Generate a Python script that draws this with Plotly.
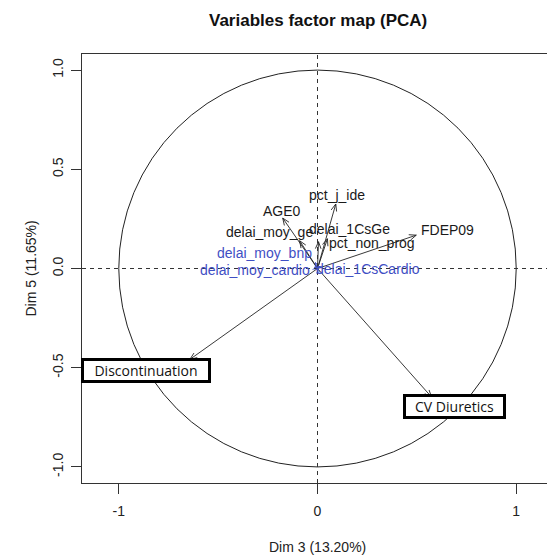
import math
import plotly.graph_objects as go

# ---- data (coordinates on Dim 3 / Dim 5) ----
active_names = ["AGE0", "pct_j_ide", "delai_moy_ge", "delai_1CsGe", "pct_non_prog",
                "FDEP09", "Discontinuation", "CV Diuretics"]
active_dim3 = [-0.175, 0.092, -0.09, 0.005, 0.05, 0.497, -0.642, 0.574]
active_dim5 = [0.254, 0.325, 0.14, 0.135, 0.15, 0.168, -0.458, -0.648]
# label offsets relative to arrow tip (data units)
active_lab_dx = [-0.005, 0.004, -0.150, 0.157, 0.223, 0.159, -0.219, 0.114]
active_lab_dy = [0.035, 0.045, 0.043, 0.063, -0.022, 0.025, -0.056, -0.046]

sup_names = ["delai_moy_bnp", "delai_moy_cardio", "delai_1CsCardio"]
sup_dim3 = [-0.01, -0.015, 0.01]
sup_dim5 = [0.03, 0.005, 0.01]
sup_lab_dx = [-0.255, -0.300, 0.243]
sup_lab_dy = [0.047, -0.013, -0.013]

boxed = ["Discontinuation", "CV Diuretics"]

x_ticks = [-1, 0, 1]
y_ticks = [-1.0, -0.5, 0.0, 0.5, 1.0]

BLACK = "#1a1a1a"
BLUE = "#3f4fc4"
HEAD_L = 0.038
HEAD_A = math.radians(22)


def arrow_xy(xs, ys):
    px, py = [], []
    for x, y in zip(xs, ys):
        px += [0, x, None]
        py += [0, y, None]
        th = math.atan2(y, x)
        for s in (1, -1):
            px += [x, x - HEAD_L * math.cos(th + s * HEAD_A), None]
            py += [y, y - HEAD_L * math.sin(th + s * HEAD_A), None]
    return px, py


fig = go.Figure()

ax_, ay_ = arrow_xy(active_dim3, active_dim5)
fig.add_trace(go.Scatter(x=ax_, y=ay_, mode="lines",
                         line=dict(color="#222222", width=0.9),
                         hoverinfo="skip", showlegend=False))
sx_, sy_ = arrow_xy(sup_dim3, sup_dim5)
fig.add_trace(go.Scatter(x=sx_, y=sy_, mode="lines",
                         line=dict(color=BLUE, width=0.9),
                         hoverinfo="skip", showlegend=False))

# unit circle
fig.add_shape(type="circle", xref="x", yref="y", x0=-1, y0=-1, x1=1, y1=1,
              line=dict(color="#222222", width=1))
# dashed zero lines
fig.add_shape(type="line", xref="paper", yref="y", x0=0, x1=1, y0=0, y1=0,
              line=dict(color="#333333", width=1, dash="4px,4px"))
fig.add_shape(type="line", xref="x", yref="paper", x0=0, x1=0, y0=0, y1=1,
              line=dict(color="#333333", width=1, dash="4px,4px"))

annotations = []
for n, x, y, dx, dy in zip(active_names, active_dim3, active_dim5, active_lab_dx, active_lab_dy):
    if n in boxed:
        continue
    annotations.append(dict(x=x + dx, y=y + dy, text=n, showarrow=False,
                            font=dict(family="Liberation Sans, Arial", size=14, color=BLACK),
                            xanchor="center", yanchor="middle"))
for n, x, y, dx, dy in zip(sup_names, sup_dim3, sup_dim5, sup_lab_dx, sup_lab_dy):
    annotations.append(dict(x=x + dx, y=y + dy, text=n, showarrow=False,
                            font=dict(family="Liberation Sans, Arial", size=14, color=BLUE),
                            xanchor="center", yanchor="middle"))
box_w = {"Discontinuation": 124, "CV Diuretics": 97}
for n, x, y, dx, dy in zip(active_names, active_dim3, active_dim5, active_lab_dx, active_lab_dy):
    if n in boxed:
        annotations.append(dict(x=x + dx, y=y + dy, text=n, showarrow=False,
                                font=dict(family="Open Sans, Noto Sans", size=14, color="#111111"),
                                bgcolor="white", bordercolor="black", borderwidth=3,
                                borderpad=0, width=box_w[n], height=19,
                                xanchor="center", yanchor="middle"))

# title and axis titles
annotations.append(dict(xref="paper", yref="paper", x=0.5, y=1, yshift=34,
                        text="<b>Variables factor map (PCA)</b>", showarrow=False,
                        font=dict(family="Liberation Sans, Arial", size=17, color="#111111"),
                        xanchor="center", yanchor="middle"))
annotations.append(dict(xref="paper", yref="paper", x=0.5, y=0, yshift=-64,
                        text="Dim 3 (13.20%)", showarrow=False,
                        font=dict(family="Liberation Sans, Arial", size=14, color="#222222"),
                        xanchor="center", yanchor="middle"))
annotations.append(dict(xref="paper", yref="paper", x=0, y=0.5, xshift=-52,
                        text="Dim 5 (11.65%)", showarrow=False, textangle=-90,
                        font=dict(family="Liberation Sans, Arial", size=14, color="#222222"),
                        xanchor="center", yanchor="middle"))

# the page body adds an 8px offset, so the figure is sized/margined to compensate
fig.update_layout(
    width=547, height=552,
    margin=dict(l=74, r=2, t=46, b=77),
    paper_bgcolor="white", plot_bgcolor="white",
    annotations=annotations,
    showlegend=False,
)
fig.update_xaxes(range=[-1.185, 1.185], tickvals=x_ticks, ticktext=[str(v) for v in x_ticks],
                 showgrid=False, zeroline=False, showline=True, mirror=True,
                 linecolor="#333333", linewidth=1, ticks="outside", ticklen=10,
                 tickcolor="#333333", ticklabelstandoff=5,
                 tickfont=dict(family="Liberation Sans, Arial", size=14, color="#222222"))
fig.update_yaxes(range=[-1.081, 1.081], tickvals=y_ticks, ticktext=[f"{v:.1f}" for v in y_ticks],
                 showgrid=False, zeroline=False, showline=True, mirror=True,
                 linecolor="#333333", linewidth=1, ticks="outside", ticklen=10,
                 tickcolor="#333333", tickangle=-90, ticklabelstandoff=2,
                 tickfont=dict(family="Liberation Sans, Arial", size=14, color="#222222"))

fig.write_html("out.html")
